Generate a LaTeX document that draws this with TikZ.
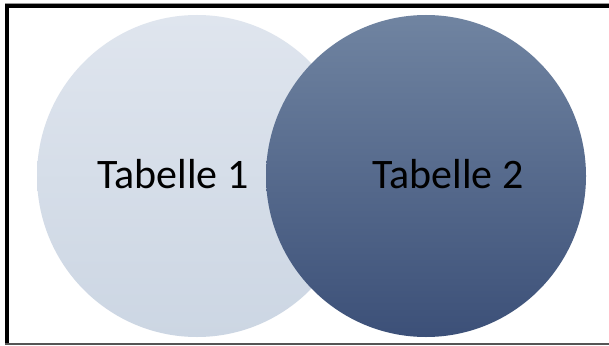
\documentclass[tikz,border=0pt]{standalone}
\usepackage{fontspec}
\setmainfont{Carlito}
\usetikzlibrary{shapes.geometric}
\definecolor{paletop}{HTML}{DFE5EE}
\definecolor{palemid}{HTML}{D4DCE7}
\definecolor{palebot}{HTML}{CCD6E3}
\definecolor{darktop}{HTML}{7084A1}
\definecolor{darkmid}{HTML}{4A6089}
\definecolor{darkbot}{HTML}{3C5078}
\definecolor{framegray}{HTML}{555555}
\tikzset{
  setcircle/.style={ellipse, draw=none, inner sep=0pt,
    minimum width=320pt, minimum height=322pt},
  setlabel/.style={anchor=base, font=\fontsize{42}{50}\selectfont, text=black, inner sep=0pt},
  frameline/.style={line width=4pt, black}
}
\begin{document}
\begin{tikzpicture}[x=1pt, y=-1pt]
  \useasboundingbox (0,0) rectangle (609,345);
  \fill[white] (0,0) rectangle (609,345);
  % the two overlapping sets
  \node[setcircle, top color=paletop, middle color=palemid, bottom color=palebot] (t1) at (197,176) {};
  \node[setcircle, top color=darktop, middle color=darkmid, bottom color=darkbot] (t2) at (426,176) {};
  \node[setlabel] (l1) at (173,188) {Tabelle 1};
  \node[setlabel] (l2) at (448,188) {Tabelle 2};
  % frame
  \draw[framegray!60, line width=1pt] (5,3.5) -- (609,3.5);
  \draw[frameline] (5,6.5) -- (609,6.5);
  \draw[frameline] (7,4.5) -- (7,345);
  \draw[framegray, line width=2pt] (5,344) -- (609,344);
\end{tikzpicture}
\end{document}
